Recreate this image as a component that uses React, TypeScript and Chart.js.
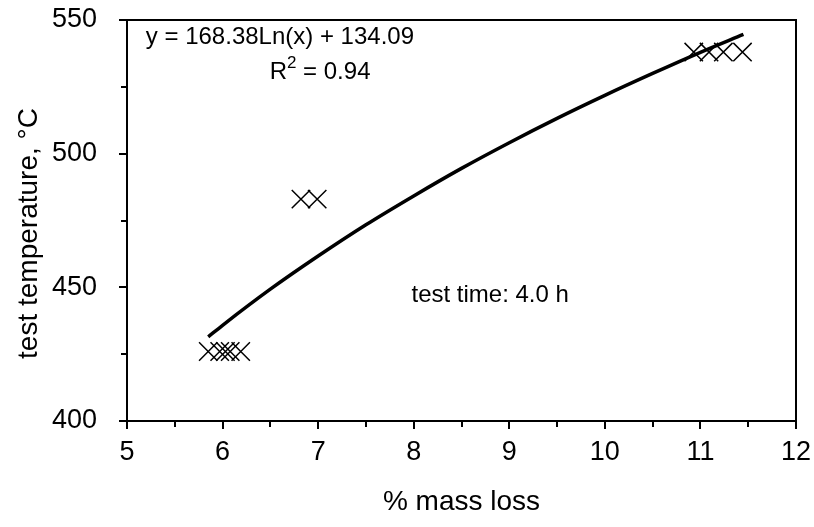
import React, { useEffect, useRef } from "react";
import { Chart, registerables } from "chart.js";
Chart.register(...registerables);

// ---- data ----
const lowX = [5.85, 5.97, 6.03, 6.08, 6.19];
const lowY = [426, 426, 426, 426, 426];
const midX = [6.82, 6.99];
const midY = [483, 483];
const highX = [10.93, 11.09, 11.24, 11.44];
const highY = [538, 538, 538, 538];
const trendX = [5.85, 6.0, 6.5, 7.0, 7.5, 8.0, 8.5, 9.0, 9.5, 10.0, 10.5, 11.0, 11.45];
const trendY = [431.5, 435.8, 449.3, 461.7, 473.4, 484.2, 494.5, 504.1, 513.2, 521.8, 530.0, 537.9, 544.6];
const xTicks = [5, 6, 7, 8, 9, 10, 11, 12];
const xMinor = [5.5, 6.5, 7.5, 8.5, 9.5, 10.5, 11.5];
const yTicks = [400, 450, 500, 550];
const yMinor = [425, 475, 525];
const xTitle = "% mass loss";
const yTitle = "test temperature, °C";
const equationText = "y = 168.38Ln(x) + 134.09";
const r2Parts = ["R", "2", " = 0.94"];
const noteText = "test time: 4.0 h";

const FONT = '"Liberation Sans", Arial, sans-serif';
const FS = 24; // annotations
const EFS = 24; // equation
const TFS = 27; // tick labels
const AFS = 28; // axis titles

const pts = (xs: number[], ys: number[]) => xs.map((x, i) => ({ x, y: ys[i] }));

const decor = {
  id: "decor",
  afterDraw(chart: any) {
    const ctx = chart.ctx as CanvasRenderingContext2D;
    const { left, right, top, bottom } = chart.chartArea;
    const xs = chart.scales.x;
    const ys = chart.scales.y;
    ctx.save();
    ctx.strokeStyle = "#000";
    ctx.fillStyle = "#000";
    ctx.lineWidth = 2;
    ctx.strokeRect(left, top, right - left, bottom - top);
    // ticks
    ctx.beginPath();
    xTicks.forEach((v) => {
      const px = Math.round(xs.getPixelForValue(v));
      ctx.moveTo(px, bottom);
      ctx.lineTo(px, bottom + 8);
    });
    xMinor.forEach((v) => {
      const px = Math.round(xs.getPixelForValue(v));
      ctx.moveTo(px, bottom);
      ctx.lineTo(px, bottom + 6);
    });
    yTicks.forEach((v) => {
      const py = Math.round(ys.getPixelForValue(v));
      ctx.moveTo(left, py);
      ctx.lineTo(left - 8, py);
    });
    yMinor.forEach((v) => {
      const py = Math.round(ys.getPixelForValue(v));
      ctx.moveTo(left, py);
      ctx.lineTo(left - 6, py);
    });
    ctx.stroke();
    // tick labels
    ctx.font = `${TFS}px ${FONT}`;
    ctx.textBaseline = "middle";
    ctx.textAlign = "center";
    xTicks.forEach((v) => {
      ctx.fillText(String(v), xs.getPixelForValue(v), bottom + 32);
    });
    ctx.textAlign = "right";
    yTicks.forEach((v) => {
      ctx.fillText(String(v), left - 30, ys.getPixelForValue(v));
    });
    // titles
    ctx.font = `${AFS}px ${FONT}`;
    ctx.textAlign = "center";
    ctx.fillText(xTitle, (left + right) / 2, bottom + 81);
    ctx.save();
    ctx.translate(29, (top + bottom) / 2 + 13);
    ctx.rotate(-Math.PI / 2);
    ctx.fillText(yTitle, 0, 0);
    ctx.restore();
    // annotations
    ctx.font = `${EFS}px ${FONT}`;
    ctx.fillText(equationText, xs.getPixelForValue(6.6), ys.getPixelForValue(543.5));
    ctx.font = `${FS}px ${FONT}`;
    const w0 = ctx.measureText(r2Parts[0]).width;
    const w2 = ctx.measureText(r2Parts[2]).width;
    const sfs = Math.round(FS * 0.72);
    ctx.font = `${sfs}px ${FONT}`;
    const w1 = ctx.measureText(r2Parts[1]).width;
    const total = w0 + w1 + w2;
    const cx = xs.getPixelForValue(7.02);
    const cy = ys.getPixelForValue(530.5);
    let sx = cx - total / 2;
    ctx.textAlign = "left";
    ctx.font = `${FS}px ${FONT}`;
    ctx.fillText(r2Parts[0], sx, cy);
    sx += w0;
    ctx.font = `${sfs}px ${FONT}`;
    ctx.fillText(r2Parts[1], sx, cy - 9);
    sx += w1;
    ctx.font = `${FS}px ${FONT}`;
    ctx.fillText(r2Parts[2], sx, cy);
    ctx.textAlign = "center";
    ctx.fillText(noteText, xs.getPixelForValue(8.8), ys.getPixelForValue(447));
    ctx.restore();
  },
};

export default function App() {
  const ref = useRef<HTMLCanvasElement>(null);
  useEffect(() => {
    const canvas = ref.current!;
    const markerStyle = {
      pointStyle: "crossRot",
      pointRadius: 13,
      pointHoverRadius: 13,
      borderColor: "#000",
      backgroundColor: "rgba(0,0,0,0)",
      pointBorderWidth: 1.5,
      borderWidth: 1.5,
      showLine: false,
      order: 1,
    };
    const chart = new Chart(canvas, {
      type: "scatter",
      data: {
        datasets: [
          {
            label: "trend",
            data: pts(trendX, trendY),
            showLine: true,
            borderColor: "#000",
            borderWidth: 3.5,
            pointRadius: 0,
            cubicInterpolationMode: "monotone",
            order: 0,
          } as any,
          { label: "low", data: pts(lowX, lowY), ...markerStyle } as any,
          { label: "mid", data: pts(midX, midY), ...markerStyle } as any,
          { label: "high", data: pts(highX, highY), ...markerStyle } as any,
        ],
      },
      options: {
        responsive: false,
        devicePixelRatio: 1,
        animation: false,
        layout: { padding: { top: 20, right: 18, left: 0, bottom: 0 } },
        plugins: { legend: { display: false }, tooltip: { enabled: false } },
        scales: {
          x: {
            type: "linear",
            min: 5,
            max: 12,
            ticks: { display: false, stepSize: 1 },
            grid: { display: false },
            border: { display: false },
            afterFit: (s: any) => {
              s.height = 106;
            },
          },
          y: {
            type: "linear",
            min: 400,
            max: 550,
            ticks: { display: false, stepSize: 50 },
            grid: { display: false },
            border: { display: false },
            afterFit: (s: any) => {
              s.width = 127;
            },
          },
        },
      },
      plugins: [decor],
    });
    return () => chart.destroy();
  }, []);
  return (
    <div style={{ position: "fixed", left: 0, top: 0, width: 814, height: 527, background: "#fff" }}>
      <canvas ref={ref} width={814} height={527} style={{ display: "block", width: 814, height: 527 }} />
    </div>
  );
}
